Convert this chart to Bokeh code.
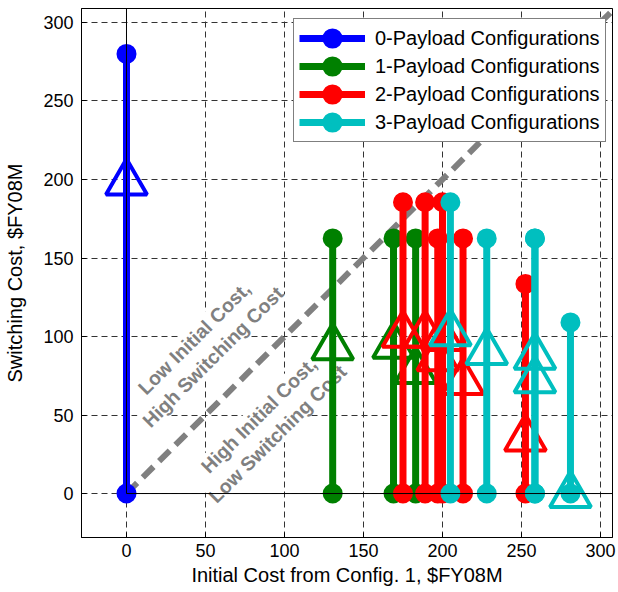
import numpy as np
from bokeh.plotting import figure
from bokeh.models import ColumnDataSource, FixedTicker, LinearAxis, Legend, LegendItem, Range1d
from bokeh.core.properties import value
from bokeh.embed import file_html
from bokeh.resources import INLINE

# ---------------- data ----------------
series_names = ["0-Payload Configurations", "1-Payload Configurations",
                "2-Payload Configurations", "3-Payload Configurations"]

# initial cost (x), switching cost min / mean / max (y), $FY08M
p0_initial = [0]
p0_sw_min = [0]
p0_sw_mean = [198]
p0_sw_max = [280]

p1_initial = [130.5, 169, 183]
p1_sw_min = [0, 0, 0]
p1_sw_mean = [93, 94, 78]
p1_sw_max = [162.5, 162.5, 162.5]

p2_initial = [175, 189, 197, 200, 213, 252.5]
p2_sw_min = [0, 0, 0, 0, 0, 0]
p2_sw_mean = [101, 101, 86, 99, 71, 35]
p2_sw_max = [185.5, 185.5, 162.5, 185.5, 162.5, 133.5]

p3_initial = [205, 228, 258.5, 258.5, 281]
p3_sw_min = [0, 0, 0, 0, 0]
p3_sw_mean = [102, 90, 87, 72, -1]
p3_sw_max = [185.5, 162.5, 162.5, 162.5, 109]

tick_values = [0, 50, 100, 150, 200, 250, 300]

region_labels = ["Low Initial Cost,\nHigh Switching Cost", "High Initial Cost,\nLow Switching Cost"]
region_label_x = [48.7, 89.6]
region_label_y = [93, 44]

diag_x = [0, 320]
diag_y = [0, 320]

colors = ["#0000ff", "#008000", "#ff0000", "#00bfbf"]

groups = [
    (p0_initial, p0_sw_min, p0_sw_mean, p0_sw_max),
    (p1_initial, p1_sw_min, p1_sw_mean, p1_sw_max),
    (p2_initial, p2_sw_min, p2_sw_mean, p2_sw_max),
    (p3_initial, p3_sw_min, p3_sw_mean, p3_sw_max),
]

# ---------------- figure ----------------
x_start, x_end = -28.48, 307.6
y_start, y_end = -28.0, 308.9
FONT = "Liberation Sans"

p = figure(width=618, height=592, output_backend="svg", toolbar_location=None,
           x_range=Range1d(x_start, x_end), y_range=Range1d(y_start, y_end),
           min_border_left=81, min_border_right=6, min_border_top=8, min_border_bottom=55)
p.background_fill_color = "white"
p.border_fill_color = "white"
p.outline_line_color = "black"
p.outline_line_width = 1

for ax in (p.xaxis[0], p.yaxis[0]):
    ax.ticker = FixedTicker(ticks=tick_values)
    ax.major_tick_in = 5
    ax.major_tick_out = 0
    ax.minor_tick_in = 0
    ax.minor_tick_out = 0
    ax.axis_line_color = "black"
    ax.major_tick_line_color = "black"
    ax.major_label_text_font = FONT
    ax.major_label_text_font_size = "18px"
    ax.major_label_text_color = "black"
    ax.axis_label_text_font = FONT
    ax.axis_label_text_font_size = "20px"
    ax.axis_label_text_font_style = "normal"
    ax.axis_label_text_color = "black"

p.xaxis.axis_label = "Initial Cost from Config. 1, $FY08M"
p.yaxis.axis_label = "Switching Cost, $FY08M"
p.xaxis.major_label_standoff = 6
p.xaxis.axis_label_standoff = 4
p.yaxis.major_label_standoff = 8
p.yaxis.axis_label_standoff = 14

# box ticks on top and right (no labels, no extra space)
top_ax = LinearAxis(ticker=FixedTicker(ticks=tick_values), fixed_location=y_end,
                    major_label_overrides={t: "" for t in tick_values})
right_ax = LinearAxis(ticker=FixedTicker(ticks=tick_values), fixed_location=x_end,
                      major_label_overrides={t: "" for t in tick_values})
for ax in (top_ax, right_ax):
    ax.major_tick_in = 0
    ax.major_tick_out = 5
    ax.minor_tick_in = 0
    ax.minor_tick_out = 0
    ax.major_label_standoff = 0
    ax.axis_line_color = "black"
    ax.major_tick_line_color = "black"
p.add_layout(top_ax, "above")
p.add_layout(right_ax, "right")

for g in (p.xgrid[0], p.ygrid[0]):
    g.grid_line_color = "#333333"
    g.grid_line_dash = "6 4"
    g.grid_line_width = 1

# region annotations (white background, rotated)
p.text(x=region_label_x, y=region_label_y, text=region_labels, angle=np.pi / 4,
       text_align="center", text_baseline="middle", text_font=value(FONT),
       text_font_style="bold", text_font_size="19.5px", text_color="#808080",
       text_line_height=1.2, background_fill_color="white")

# diagonal y = x
p.line(diag_x, diag_y, line_color="#808080", line_width=6, line_dash="15 8")

items = []
for name, col, (xi, smin, smean, smax) in zip(series_names, colors, groups):
    src = ColumnDataSource(dict(x=xi, lo=smin, hi=smax, mean=smean))
    seg = p.segment(x0="x", y0="lo", x1="x", y1="hi", source=src, line_color=col, line_width=7)
    circ_src = ColumnDataSource(dict(x=list(xi) + list(xi), y=list(smin) + list(smax)))
    circ = p.scatter(x="x", y="y", source=circ_src, marker="circle", size=11,
                     fill_color=col, line_color=col, line_width=9)
    p.scatter(x="x", y="mean", source=src, marker="triangle", size=41,
              fill_color=None, line_color=col, line_width=4)
    items.append(LegendItem(label=name, renderers=[seg, circ]))

# zero lines on top
p.segment(x0=[0, 0], y0=[0, 0], x1=[x_end, 0], y1=[0, y_end], line_color="black", line_width=1)

legend = Legend(items=items, location=(212, 395), margin=0, padding=5, spacing=0,
                glyph_width=66, glyph_height=28, label_height=28, label_standoff=10,
                label_text_font=FONT, label_text_font_size="20px", label_text_color="black",
                border_line_color="black", border_line_width=1,
                background_fill_color="white", background_fill_alpha=1.0)
p.add_layout(legend)

open("out.html", "w").write(file_html(p, INLINE))
